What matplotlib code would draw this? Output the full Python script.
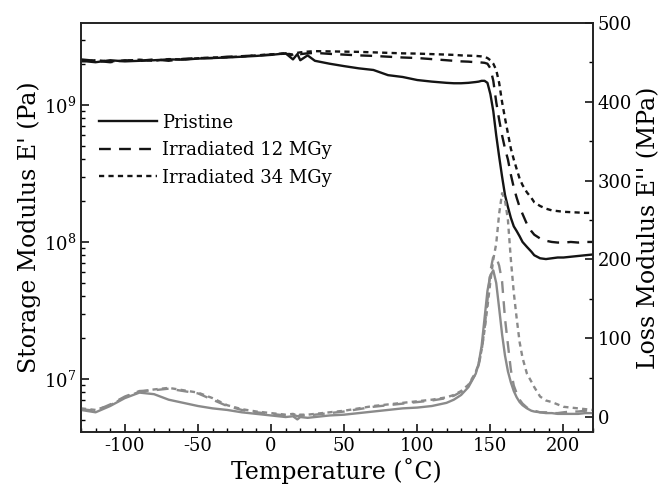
import matplotlib
matplotlib.use("Agg")
import matplotlib.pyplot as plt
from matplotlib.ticker import MultipleLocator, LogLocator, NullFormatter

plt.rcParams["font.family"] = "DejaVu Serif"
plt.rcParams["mathtext.fontset"] = "dejavuserif"
plt.rcParams["axes.unicode_minus"] = False

# temperature grid (deg C)
temp = [-130, -120, -110, -100, -90, -80, -70, -60, -50, -40, -30, -20, -10,
        0, 5, 10, 15, 18, 20, 25, 30,
        40, 50, 60, 70, 80, 90, 100, 110, 120,
        125, 130, 135, 140, 142, 144, 146, 148,
        150, 152, 154, 156, 158, 160, 162, 164, 166, 168, 170, 172,
        175, 178, 180, 184, 188, 192, 196, 200, 205, 210, 215, 220]

# storage modulus E' (GPa -> scaled to Pa below)
storage_pristine = [2.10, 2.05, 2.12, 2.08, 2.10, 2.12, 2.15, 2.14, 2.18, 2.20, 2.22, 2.25, 2.28,
                    2.32, 2.35, 2.38, 2.15, 2.35, 2.12, 2.30, 2.10,
                    2.00, 1.92, 1.85, 1.80, 1.65, 1.60, 1.52, 1.48, 1.45,
                    1.44, 1.44, 1.45, 1.47, 1.48, 1.50, 1.50, 1.45,
                    1.20, 0.90, 0.60, 0.42, 0.30, 0.22, 0.18, 0.15, 0.13, 0.12, 0.11, 0.10,
                    0.092, 0.085, 0.080, 0.076, 0.075, 0.076, 0.077, 0.077, 0.078, 0.079, 0.080, 0.081]
storage_12 = [2.15, 2.10, 2.05, 2.12, 2.10, 2.15, 2.10, 2.17, 2.20, 2.20, 2.25, 2.27, 2.30,
              2.33, 2.35, 2.37, 2.30, 2.38, 2.35, 2.38, 2.40,
              2.36, 2.33, 2.30, 2.28, 2.25, 2.22, 2.20, 2.16, 2.12,
              2.10, 2.08, 2.07, 2.05, 2.05, 2.04, 2.03, 2.00,
              1.85, 1.50, 1.05, 0.78, 0.60, 0.48, 0.40, 0.31, 0.25, 0.21, 0.18, 0.16,
              0.135, 0.12, 0.113, 0.106, 0.102, 0.100, 0.099, 0.099, 0.100, 0.099, 0.100, 0.100]
storage_34 = [2.08, 2.12, 2.08, 2.10, 2.14, 2.10, 2.16, 2.15, 2.19, 2.22, 2.23, 2.26, 2.30,
              2.34, 2.36, 2.38, 2.33, 2.40, 2.42, 2.45, 2.47,
              2.46, 2.45, 2.44, 2.42, 2.40, 2.38, 2.37, 2.35, 2.33,
              2.32, 2.30, 2.29, 2.28, 2.27, 2.26, 2.24, 2.20,
              2.12, 2.00, 1.80, 1.45, 1.05, 0.80, 0.62, 0.48, 0.40, 0.34, 0.29, 0.26,
              0.23, 0.21, 0.195, 0.183, 0.175, 0.170, 0.168, 0.166, 0.165, 0.164, 0.163, 0.163]

# loss modulus E'' (MPa)
loss_pristine = [9, 6, 14, 24, 31, 29, 22, 18, 14, 11, 9, 6, 4,
                 2, 1, 0, 1, -3, 0, -1, 0,
                 2, 3, 5, 7, 9, 11, 12, 14, 18,
                 22, 28, 38, 55, 68, 90, 125, 160,
                 180, 186, 170, 138, 105, 78, 58, 44, 33, 25, 19, 15,
                 11, 8, 7, 6, 5, 5, 4, 4, 4, 4, 5, 5]
loss_12 = [10, 8, 16, 26, 33, 34, 36, 33, 30, 22, 14, 9, 6,
           4, 3, 2, 3, 1, 2, 2, 3,
           5, 7, 10, 13, 15, 17, 19, 21, 24,
           27, 32, 40, 55, 66, 84, 112, 148,
           185, 204, 203, 192, 172, 125, 92, 60, 40, 30, 22, 17,
           12, 9, 8, 6, 6, 5, 5, 6, 7, 7, 8, 9]
loss_34 = [11, 9, 15, 25, 32, 35, 37, 34, 31, 24, 15, 10, 7,
           5, 4, 3, 4, 2, 3, 3, 4,
           6, 8, 11, 14, 16, 18, 20, 22, 25,
           28, 33, 41, 57, 68, 85, 110, 140,
           172, 200, 220, 258, 284, 275, 250, 200, 158, 125, 95, 75,
           55, 45, 38, 26, 21, 19, 16, 13, 12, 11, 10, 9]

labels = ["Pristine", "Irradiated 12 MGy", "Irradiated 34 MGy"]
styles = ["-", (0, (5, 3.5)), (0, (2.2, 1.8))]

fig, ax = plt.subplots(figsize=(6.69, 4.98), dpi=100)
fig.subplots_adjust(left=0.121, right=0.886, bottom=0.1325, top=0.954)
ax2 = ax.twinx()

black = "#141414"
gray = "#8a8a8a"
for vals, ls, lab in zip([storage_pristine, storage_12, storage_34], styles, labels):
    ax.plot(temp, [v * 1e9 for v in vals], color=black, lw=1.7, linestyle=ls, label=lab)
for vals, ls in zip([loss_pristine, loss_12, loss_34], styles):
    ax2.plot(temp, vals, color=gray, lw=1.7, linestyle=ls)

ax.set_yscale("log")
ax.set_xlim(-130, 220)
ax.set_ylim(4.1e6, 3.97e9)
ax2.set_ylim(-19, 500)

ax.xaxis.set_major_locator(MultipleLocator(50))
ax.xaxis.set_minor_locator(MultipleLocator(10))
ax.yaxis.set_major_locator(LogLocator(base=10, numticks=10))
ax.yaxis.set_minor_locator(LogLocator(base=10, subs=range(2, 10), numticks=10))
ax.yaxis.set_minor_formatter(NullFormatter())
ax2.yaxis.set_major_locator(MultipleLocator(100))
ax2.yaxis.set_minor_locator(MultipleLocator(50))

ax.tick_params(axis="both", which="both", direction="in", labelsize=13, top=False, right=False)
ax.tick_params(which="major", length=6, width=1.1)
ax.tick_params(which="minor", length=3, width=1.0)
ax2.tick_params(axis="y", which="both", direction="in", labelsize=13)
ax2.tick_params(which="major", length=6, width=1.1)
ax2.tick_params(which="minor", length=3, width=1.0)
for a in (ax, ax2):
    for s in a.spines.values():
        s.set_linewidth(1.2)
        s.set_color("#222222")

ax.set_xlabel("Temperature (˚C)", fontsize=17, labelpad=2)
ax.set_ylabel("Storage Modulus E' (Pa)", fontsize=17, labelpad=2)
ax2.set_ylabel("Loss Modulus E'' (MPa)", fontsize=17, labelpad=4)

ax.legend(loc="upper left", bbox_to_anchor=(0.035, 0.778), frameon=False, fontsize=13,
          handlelength=3.2, handletextpad=0.3, labelspacing=0.52, borderpad=0, borderaxespad=0)

fig.savefig("out.png", dpi=100)
